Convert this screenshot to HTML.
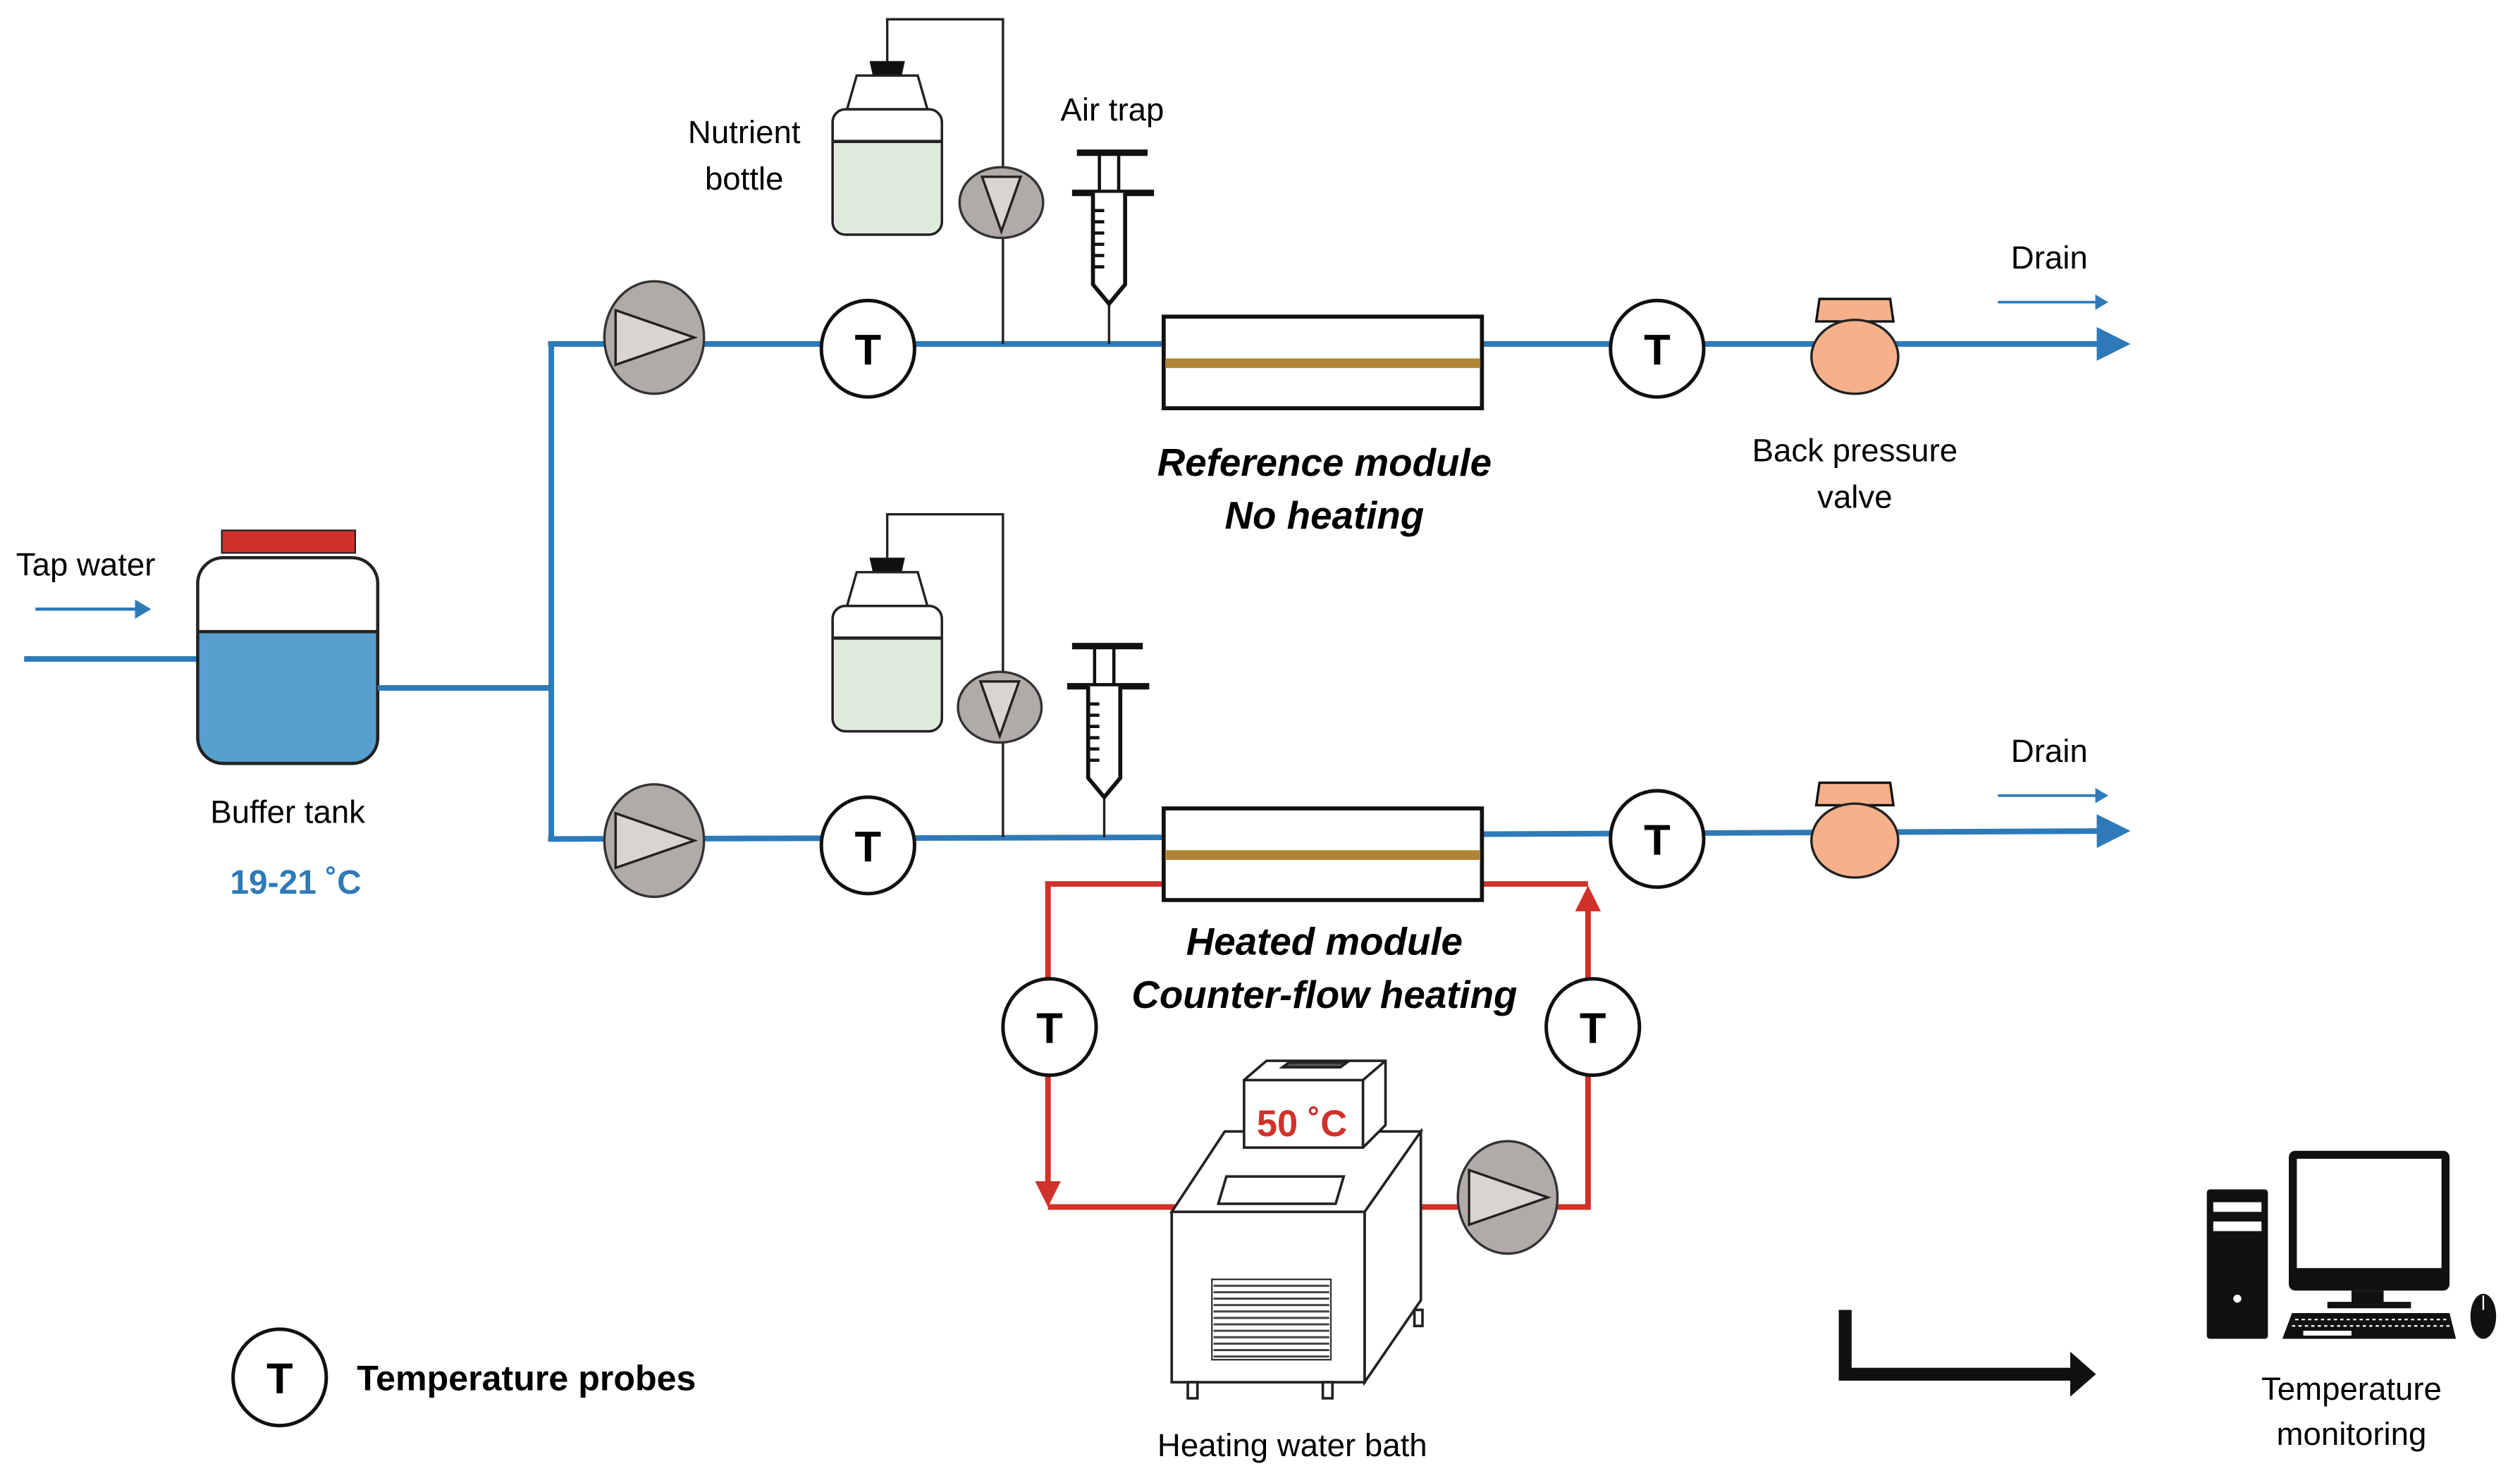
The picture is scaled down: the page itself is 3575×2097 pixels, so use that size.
<!DOCTYPE html>
<html><head><meta charset="utf-8"><style>
html,body{margin:0;padding:0;background:#fff;}
svg{display:block;}
text{font-family:"Liberation Sans",sans-serif;}
</style></head><body>
<svg width="3575" height="2097" viewBox="0 0 1560 915" preserveAspectRatio="none" xmlns="http://www.w3.org/2000/svg">
<defs>
<marker id="ab" markerWidth="6" markerHeight="6" refX="5" refY="3" orient="auto" markerUnits="strokeWidth"><path d="M0,0 L6,3 L0,6 z" fill="#2e7ab8"/></marker>
<marker id="abs" markerWidth="5" markerHeight="6" refX="4" refY="3" orient="auto" markerUnits="strokeWidth"><path d="M0,0 L5,3 L0,6 z" fill="#2e7ab8"/></marker>
<g id="pump"><ellipse cx="0" cy="0" rx="31" ry="35" fill="#b0aba8" stroke="#333" stroke-width="1.5"/><path d="M-24,-17 L25,0 L-24,17 z" fill="#d8d4d2" stroke="#222" stroke-width="1.5"/></g>
<g id="tp"><ellipse cx="0" cy="0" rx="29" ry="30" fill="#fff" stroke="#111" stroke-width="2.2"/><text x="0" y="10" text-anchor="middle" font-size="27" font-weight="bold">T</text></g>
<g id="cv"><ellipse cx="0" cy="0" rx="26" ry="22" fill="#b0aba8" stroke="#333" stroke-width="1.5"/><path d="M-12,-16 L12,-16 L0,18 z" fill="#d8d4d2" stroke="#222" stroke-width="1.5"/></g>
<g id="bottle"><path d="M-11,0 h22 l-2,9 h-18 z" fill="#111"/><path d="M-19,9 L19,9 L25,30 L-25,30 z" fill="#fff" stroke="#222" stroke-width="1.5"/><rect x="-34" y="30" width="68" height="78" rx="8" fill="#fff" stroke="#222" stroke-width="1.5"/><path d="M-33,50 H33 V100 a7,7 0 0 1 -7,7 H-26 a7,7 0 0 1 -7,-7 z" fill="#deeadb"/><line x1="-34" y1="50" x2="34" y2="50" stroke="#222" stroke-width="2"/><rect x="-34" y="30" width="68" height="78" rx="8" fill="none" stroke="#222" stroke-width="1.5"/></g>
<g id="syr"><line x1="-20" y1="0" x2="24" y2="0" stroke="#111" stroke-width="4"/><line x1="-6" y1="0" x2="-6" y2="25" stroke="#111" stroke-width="2"/><line x1="6" y1="0" x2="6" y2="25" stroke="#111" stroke-width="2"/><line x1="-23" y1="25" x2="28" y2="25" stroke="#111" stroke-width="4"/><path d="M-10,25 V82 L0,94 L10,82 V25" fill="#fff" stroke="#111" stroke-width="2.5"/><g stroke="#111" stroke-width="2"><line x1="-10" y1="36" x2="-3" y2="36"/><line x1="-10" y1="43" x2="-3" y2="43"/><line x1="-10" y1="50" x2="-3" y2="50"/><line x1="-10" y1="57" x2="-3" y2="57"/><line x1="-10" y1="64" x2="-3" y2="64"/><line x1="-10" y1="71" x2="-3" y2="71"/></g></g>
<g id="bpv"><path d="M-22,-36 H22 L24,-22 H-24 z" fill="#f6b08a" stroke="#111" stroke-width="1.5"/><ellipse cx="0" cy="0" rx="27" ry="23" fill="#f6b08a" stroke="#222" stroke-width="1.5"/></g>
<g id="mod"><rect x="0" y="0" width="198" height="57" fill="#fff" stroke="#111" stroke-width="2.5"/><rect x="1" y="26" width="196" height="6" fill="#b08432"/></g>
</defs>
<g transform="scale(0.995)">
<!-- Tap water -->
<text x="10" y="358" font-size="20">Tap water</text>
<line x1="22" y1="379" x2="92" y2="379" stroke="#2e7ab8" stroke-width="2" marker-end="url(#abs)"/>
<line x1="15" y1="410" x2="123" y2="410" stroke="#2e7ab8" stroke-width="3.5"/>

<!-- Buffer tank -->
<rect x="138" y="330" width="83" height="14" fill="#d0312a" stroke="#222" stroke-width="1"/>
<path d="M123,393 H235 V460 a15,15 0 0 1 -15,15 H138 a15,15 0 0 1 -15,-15 z" fill="#579fcf"/>
<rect x="123" y="347" width="112" height="128" rx="16" fill="none" stroke="#222" stroke-width="2"/>
<line x1="123" y1="393" x2="235" y2="393" stroke="#222" stroke-width="2"/>
<text x="179" y="512" font-size="20" text-anchor="middle">Buffer tank</text>
<text x="184" y="556" font-size="21" font-weight="bold" fill="#2e7ab8" text-anchor="middle">19-21 ˚C</text>

<!-- Main pipes -->
<g stroke="#2e7ab8" stroke-width="3.5" fill="none">
<line x1="235" y1="428" x2="343" y2="428"/>
<line x1="343" y1="214" x2="343" y2="522"/>
<line x1="341" y1="214" x2="724" y2="214"/>
<line x1="341" y1="522" x2="724" y2="521"/>
<line x1="922" y1="214" x2="1322" y2="214" marker-end="url(#ab)"/>
<line x1="922" y1="519" x2="1322" y2="517" marker-end="url(#ab)"/>
</g>

<!-- wires -->
<g stroke="#222" stroke-width="1.5" fill="none">
<path d="M552,38 V12 H624 V214"/>
<path d="M552,347 V320 H624 V521"/>
<line x1="690" y1="190" x2="690" y2="214"/>
<line x1="687" y1="497" x2="687" y2="521"/>
</g>

<!-- Top branch -->
<use href="#pump" x="407" y="210"/>
<use href="#tp" x="540" y="217"/>
<use href="#bottle" x="552" y="38"/>
<use href="#cv" x="623" y="126"/>
<use href="#syr" x="690" y="95"/>
<use href="#mod" x="724" y="197"/>
<use href="#tp" x="1031" y="217"/>
<use href="#bpv" x="1154" y="222"/>
<text x="463" y="89" font-size="20" text-anchor="middle">Nutrient</text>
<text x="463" y="118" font-size="20" text-anchor="middle">bottle</text>
<text x="692" y="75" font-size="20" text-anchor="middle">Air trap</text>
<text x="824" y="296" font-size="24" font-weight="bold" font-style="italic" text-anchor="middle">Reference module</text>
<text x="824" y="329" font-size="24" font-weight="bold" font-style="italic" text-anchor="middle">No heating</text>
<text x="1154" y="287" font-size="20" text-anchor="middle">Back pressure</text>
<text x="1154" y="316" font-size="20" text-anchor="middle">valve</text>
<text x="1275" y="167" font-size="20" text-anchor="middle">Drain</text>
<line x1="1243" y1="188" x2="1310" y2="188" stroke="#2e7ab8" stroke-width="1.6" marker-end="url(#abs)"/>

<!-- Red loop -->
<g stroke="#d0312a" stroke-width="3.5" fill="none">
<path d="M724,550 H652 V735"/>
<path d="M733,751 H652"/>
<path d="M880,751 H988 V565"/>
<path d="M988,550 H922"/>
</g>
<path d="M644,735 L660,735 L652,751 z" fill="#d0312a"/>
<path d="M980,567 L996,567 L988,551 z" fill="#d0312a"/>

<!-- Bottom branch -->
<use href="#pump" x="407" y="523"/>
<use href="#tp" x="540" y="526"/>
<use href="#bottle" x="552" y="347"/>
<use href="#cv" x="622" y="440"/>
<use href="#syr" x="687" y="402"/>
<use href="#mod" x="724" y="503"/>
<use href="#tp" x="1031" y="522"/>
<use href="#bpv" x="1154" y="523"/>
<text x="1275" y="474" font-size="20" text-anchor="middle">Drain</text>
<line x1="1243" y1="495" x2="1310" y2="495" stroke="#2e7ab8" stroke-width="1.6" marker-end="url(#abs)"/>
<text x="824" y="594" font-size="24" font-weight="bold" font-style="italic" text-anchor="middle">Heated module</text>
<text x="824" y="627" font-size="24" font-weight="bold" font-style="italic" text-anchor="middle">Counter-flow heating</text>
<use href="#tp" x="653" y="639"/>
<use href="#tp" x="991" y="639"/>

<!-- Heating bath -->
<g stroke="#222" stroke-width="1.6" fill="#fff">
<path d="M849,754 L884,704 V809 L849,860 z"/>
<path d="M729,754 L762,704 H884 L849,754 z"/>
<rect x="729" y="754" width="120" height="106"/>
<path d="M763,732 H836 L831,749 H758 z"/>
<path d="M774,672 L788,660 H862 V700 L848,714 H774 z"/>
<line x1="774" y1="672" x2="848" y2="672"/><line x1="848" y1="672" x2="862" y2="660"/><line x1="848" y1="672" x2="848" y2="714"/>
<path d="M798,664 L802,661 H838 L834,664 z" fill="#555"/>
<rect x="739" y="860" width="6" height="10"/><rect x="823" y="860" width="6" height="10"/><rect x="880" y="815" width="5" height="10"/>
</g>
<rect x="754" y="796" width="74" height="50" fill="#fff" stroke="#333" stroke-width="1"/>
<g stroke="#444" stroke-width="1.3">
<line x1="755" y1="800" x2="827" y2="800"/><line x1="755" y1="804" x2="827" y2="804"/><line x1="755" y1="808" x2="827" y2="808"/><line x1="755" y1="812" x2="827" y2="812"/><line x1="755" y1="816" x2="827" y2="816"/><line x1="755" y1="820" x2="827" y2="820"/><line x1="755" y1="824" x2="827" y2="824"/><line x1="755" y1="828" x2="827" y2="828"/><line x1="755" y1="832" x2="827" y2="832"/><line x1="755" y1="836" x2="827" y2="836"/><line x1="755" y1="840" x2="827" y2="840"/><line x1="755" y1="844" x2="827" y2="844"/>
</g>
<text x="810" y="707" font-size="23" font-weight="bold" fill="#d0312a" text-anchor="middle">50 ˚C</text>
<use href="#pump" x="938" y="745"/>
<text x="804" y="906" font-size="20" text-anchor="middle">Heating water bath</text>

<!-- Legend -->
<use href="#tp" x="174" y="857"/>
<text x="222" y="865" font-size="22" font-weight="bold">Temperature probes</text>

<!-- Big arrow -->
<path d="M1144,815 H1152 V851 H1288 V841 L1304,855 L1288,869 V859 H1144 z" fill="#111"/>

<!-- Computer -->
<rect x="1373" y="740" width="38" height="93" rx="2" fill="#111"/>
<rect x="1377" y="748" width="30" height="6" fill="#fff"/><rect x="1377" y="760" width="30" height="6" fill="#fff"/>
<circle cx="1392" cy="808" r="2.5" fill="#fff"/>
<rect x="1424" y="716" width="100" height="87" rx="4" fill="#111"/>
<rect x="1429" y="721" width="90" height="68" fill="#fff"/>
<rect x="1463" y="803" width="20" height="8" fill="#111"/>
<rect x="1448" y="810" width="52" height="4" fill="#111"/>
<path d="M1426,817 H1524 L1528,833 H1420 z" fill="#111"/>
<g stroke="#fff" stroke-width="1" stroke-dasharray="2,2"><line x1="1428" y1="821" x2="1522" y2="821"/><line x1="1426" y1="825" x2="1524" y2="825"/></g>
<rect x="1433" y="828" width="30" height="3" fill="#fff"/>
<ellipse cx="1545" cy="819" rx="8" ry="14" fill="#111"/>
<line x1="1545" y1="806" x2="1545" y2="815" stroke="#fff" stroke-width="1"/>
<text x="1463" y="871" font-size="20" text-anchor="middle">Temperature</text>
<text x="1463" y="899" font-size="20" text-anchor="middle">monitoring</text>
</g>
</svg>
</body></html>
